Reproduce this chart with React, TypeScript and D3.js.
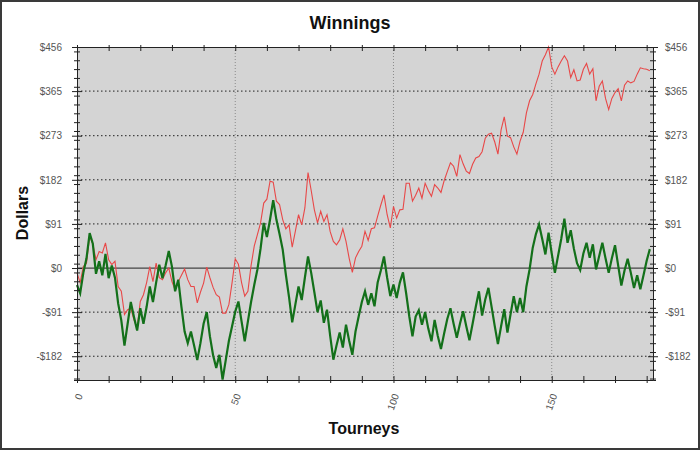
import React, { useEffect, useRef } from "react";
import * as d3 from "d3";

const tourneyTicks = [0, 50, 100, 150];
const dollarTicks = [-182, -91, 0, 91, 182, 273, 365, 456];

// one value per tourney, 0..181
const redWinnings = [
  -10, -30, 3, 10, 65, 50, 17, 34, 31, 52,
  17, 7, 14, -38, -48, -96, -86, -83, -107, -124,
  -69, -55, -30, 3, -28, 10, -20, -24, -10, 0,
  -28, -45, -28, -15, -2, -24, -38, -38, -72, -50,
  -31, 2, -20, -40, -55, -60, -93, -93, -75, -30,
  19, 8, -30, -58, -48, 5, 45, 69, 93, 134,
  142, 179, 177, 138, 131, 100, 81, 89, 43, 76,
  110, 89, 124, 197, 160, 120, 93, 117, 96, 110,
  75, 55, 48, 58, 81, 55, 20, -9, 21, 34,
  45, 76, 57, 81, 83, 107, 130, 151, 110, 83,
  127, 103, 120, 121, 175, 175, 138, 150, 165, 144,
  175, 160, 148, 172, 165, 156, 180, 199, 217, 210,
  189, 234, 215, 200, 195, 214, 227, 230, 240, 268,
  276, 278, 260, 235, 285, 312, 272, 269, 250, 235,
  262, 280, 320, 345, 358, 380, 400, 427, 440, 456,
  415, 400, 415, 427, 438, 427, 393, 409, 386, 388,
  410, 422, 400, 411, 345, 375, 386, 350, 327, 350,
  362, 370, 345, 377, 386, 382, 385, 400, 413, 411,
  410, 407,
];

const greenWinnings = [
  -35, -52, -10, 20, 72, 50, -12, 14, -15, 29,
  -21, 5, -20, -73, -108, -160, -115, -70, -101, -129,
  -83, -115, -80, -38, -70, -30, 7, -21, 5, 35,
  3, -48, -24, -80, -131, -155, -131, -160, -190, -155,
  -115, -91, -141, -180, -206, -179, -230, -190, -150, -120,
  -90, -69, -110, -151, -110, -70, -35, -3, 40, 93,
  64, 100, 140, 100, 70, 38, -14, -60, -112, -75,
  -38, -66, -20, 24, -10, -50, -91, -67, -113, -86,
  -140, -189, -160, -133, -164, -117, -150, -179, -131, -100,
  -70, -48, -76, -52, -79, -30, -5, 24, -20, -58,
  -34, -62, -30, -9, -52, -100, -141, -100, -87, -117,
  -91, -125, -151, -107, -140, -167, -135, -105, -83, -115,
  -144, -115, -89, -120, -149, -115, -80, -48, -98, -65,
  -41, -80, -120, -157, -120, -85, -133, -95, -58, -91,
  -62, -91, -38, -3, 42, 70, 90, 60, 28, 73,
  30, -10, 25, 60, 102, 52, 78, 40, 10, -4,
  30, 52, 21, 49, -3, 25, 52, 20, -10, 20,
  47, 5, -36, -5, 19, -10, -41, -15, -44, -15,
  15, 39,
];

const fmtDollars = (d: number) => (d < 0 ? `-$${-d}` : `$${d}`);

function App() {
  const ref = useRef<SVGSVGElement>(null);

  useEffect(() => {
    const svg = d3.select(ref.current);
    svg.selectAll("*").remove();

    const left = 77, right = 653, top = 47, bottom = 380;
    const x = d3.scaleLinear().domain([0, 182]).range([left, right]);
    const y = d3.scaleLinear().domain([-231, 456]).range([bottom, top]);

    svg.append("rect").attr("width", 700).attr("height", 450).attr("fill", "#fff");

    // plot background
    svg.append("rect")
      .attr("x", left).attr("y", top)
      .attr("width", right - left).attr("height", bottom - top)
      .attr("fill", "#d4d4d4");

    // grid
    svg.append("g").selectAll("line")
      .data([50, 100, 150])
      .join("line")
      .attr("x1", (d) => x(d)).attr("x2", (d) => x(d))
      .attr("y1", top).attr("y2", bottom)
      .attr("stroke", "#8a8a8a").attr("stroke-dasharray", "1,2");
    svg.append("g").selectAll("line")
      .data(dollarTicks.filter((d) => d !== 0 && d !== 456))
      .join("line")
      .attr("x1", left).attr("x2", right)
      .attr("y1", (d) => y(d)).attr("y2", (d) => y(d))
      .attr("stroke", "#222").attr("stroke-dasharray", "1.5,2.5");
    svg.append("line")
      .attr("x1", left).attr("x2", right)
      .attr("y1", y(0)).attr("y2", y(0))
      .attr("stroke", "#444").attr("stroke-width", 1.2);

    // series
    const line = d3.line<number>().x((d, i) => x(i)).y((d) => y(d));
    svg.append("path").datum(redWinnings)
      .attr("d", line).attr("fill", "none")
      .attr("stroke", "#e84848").attr("stroke-width", 1.1);
    svg.append("path").datum(greenWinnings)
      .attr("d", line).attr("fill", "none")
      .attr("stroke", "#13701a").attr("stroke-width", 2.2);

    // axes
    const minorY = d3.range(-228, 457, 91.2 / 5);
    const minorX = d3.range(0, 181, 10);
    const styleAxis = (g: any) => {
      g.selectAll("path.domain").attr("stroke", "#222");
      g.selectAll(".tick line").attr("stroke", "#222");
      g.selectAll("text").attr("fill", "#555").attr("font-size", 10)
        .attr("font-family", "Arial, 'Liberation Sans', sans-serif");
    };

    const yl = svg.append("g").attr("transform", `translate(${left},0)`);
    yl.append("g").call(d3.axisLeft(y).tickValues(minorY).tickSize(3).tickFormat(() => ""))
      .call((g) => g.selectAll(".tick line").attr("x1", 3));
    yl.append("g").call(d3.axisLeft(y).tickValues(dollarTicks).tickSizeInner(5).tickSizeOuter(0)
      .tickPadding(10).tickFormat((d) => fmtDollars(+d)))
      .call((g) => g.selectAll(".tick line").attr("x1", 5));
    yl.selectAll("g").call(styleAxis as any);

    const yr = svg.append("g").attr("transform", `translate(${right},0)`);
    yr.append("g").call(d3.axisRight(y).tickValues(minorY).tickSize(3).tickFormat(() => ""))
      .call((g) => g.selectAll(".tick line").attr("x1", -3));
    yr.append("g").call(d3.axisRight(y).tickValues(dollarTicks).tickSizeInner(5).tickSizeOuter(0)
      .tickPadding(7).tickFormat((d) => fmtDollars(+d)))
      .call((g) => g.selectAll(".tick line").attr("x1", -5));
    yr.selectAll("g").call(styleAxis as any);

    const xb = svg.append("g").attr("transform", `translate(0,${bottom})`);
    xb.append("g").call(d3.axisBottom(x).tickValues(minorX).tickSize(3).tickSizeOuter(0).tickFormat(() => ""))
      .call((g) => g.selectAll(".tick line").attr("y1", -4));
    xb.append("g").call(d3.axisBottom(x).tickValues(tourneyTicks).tickSize(0).tickSizeOuter(0))
      .call((g) => g.select(".domain").remove())
      .call((g) => g.selectAll("text")
        .attr("x", 0).attr("y", 0).attr("dy", "0.35em")
        .attr("text-anchor", "end")
        .attr("transform", "translate(2,14) rotate(-70)"));
    xb.selectAll("g").call(styleAxis as any);

    const xt = svg.append("g").attr("transform", `translate(0,${top})`);
    xt.append("g").call(d3.axisBottom(x).tickValues(minorX).tickSize(4).tickSizeOuter(0).tickFormat(() => ""))
      .call((g) => g.selectAll(".tick line").attr("y1", -2));
    xt.selectAll("g").call(styleAxis as any);

    // titles
    svg.append("text").text("Winnings")
      .attr("x", 350).attr("y", 29).attr("text-anchor", "middle")
      .attr("font-size", 18).attr("font-weight", "bold").attr("fill", "#111");
    svg.append("text").text("Tourneys")
      .attr("x", 364).attr("y", 434).attr("text-anchor", "middle")
      .attr("font-size", 16).attr("font-weight", "bold").attr("fill", "#111");
    svg.append("text").text("Dollars")
      .attr("transform", "translate(28,213) rotate(-90)").attr("text-anchor", "middle")
      .attr("font-size", 16).attr("font-weight", "bold").attr("fill", "#111");

    // outer frame
    svg.append("rect").attr("x", 1).attr("y", 1).attr("width", 698).attr("height", 448)
      .attr("fill", "none").attr("stroke", "#3a3a3a").attr("stroke-width", 2);
  }, []);

  return (
    <svg
      ref={ref}
      width={700}
      height={450}
      style={{ position: "absolute", left: 0, top: 0, fontFamily: "Arial, 'Liberation Sans', sans-serif" }}
    />
  );
}

export default App;
